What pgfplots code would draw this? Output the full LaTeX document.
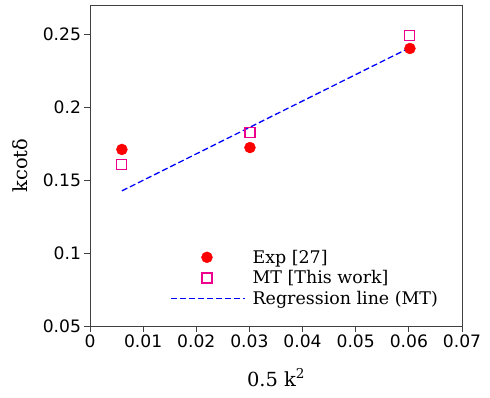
\documentclass[border=0pt]{standalone}
\usepackage{fontspec}
\setmainfont{DejaVu Serif}
\newfontfamily\ticksans{DejaVu Sans}
\usepackage{pgfplots}
\pgfplotsset{compat=1.18}

\begin{document}
\begin{tikzpicture}
\begin{axis}[
  scale only axis,
  width=372bp, height=321bp,
  xmin=0, xmax=0.07, ymin=0.05, ymax=0.27,
  scaled x ticks=false, scaled y ticks=false,
  xtick={0,0.01,...,0.07},
  ytick={0.05,0.1,0.15,0.2,0.25},
  xticklabels={0,0.01,0.02,0.03,0.04,0.05,0.06,0.07},
  yticklabels={0.05,0.1,0.15,0.2,0.25},
  tick align=outside, xtick pos=bottom, ytick pos=left,
  major tick length=5.5bp,
  every tick/.style={black!75, line width=0.8bp},
  axis line style={black!75, line width=0.8bp},
  tick label style={font=\ticksans\fontsize{17.2}{20}\selectfont},
  xlabel={0.5 k\textsuperscript{2}},
  ylabel={kcotδ},
  label style={font=\fontsize{19.5}{22}\selectfont},
  xlabel style={at={(axis description cs:0.5,-0.187)}, anchor=base},
  ylabel style={at={(axis description cs:-0.169,0.5)}, anchor=base},
  legend cell align=left,
  legend style={at={(0.21,0.25)}, anchor=north west, draw=none, fill=none,
    font=\fontsize{17.5}{21}\selectfont, row sep=2bp, inner sep=2bp,
    /tikz/every odd column/.append style={column sep=5bp}},
]
\coordinate (bl) at (rel axis cs:0,0);
\coordinate (tr) at (rel axis cs:1,1);
\addplot[only marks, mark=*, mark size=5.5bp, draw=red, fill=red,
  legend image code/.code={\draw[red, fill=red, mark size=5.5bp] plot[mark=*] coordinates {(36bp,0)};}]
  coordinates {(0.006,0.1710)(0.0301,0.1723)(0.0602,0.2402)};
\addlegendentry{Exp [27]}
\addplot[only marks, mark=square, mark size=5bp, draw=magenta, mark options={draw=magenta, line width=1.1bp},
  legend image code/.code={\draw[magenta, mark size=5bp, line width=1.1bp] plot[mark=square] coordinates {(36bp,0)};}]
  coordinates {(0.006,0.1609)(0.0301,0.1826)(0.0602,0.2488)};
\addlegendentry{MT [This work]}
\addplot[blue, line width=1.3bp, dash pattern=on 6bp off 3bp,
  legend image code/.code={\draw[blue, line width=1.3bp, dash pattern=on 6bp off 3bp] (0bp,0bp) -- (74bp,0bp);}]
  coordinates {(0.006,0.1426)(0.0602,0.2408)};
\addlegendentry{Regression line (MT)}
\end{axis}
\pgfresetboundingbox
\path[use as bounding box] ([shift={(-90bp,-72bp)}]bl) rectangle ([shift={(28bp,5bp)}]tr);
\end{tikzpicture}
\end{document}
